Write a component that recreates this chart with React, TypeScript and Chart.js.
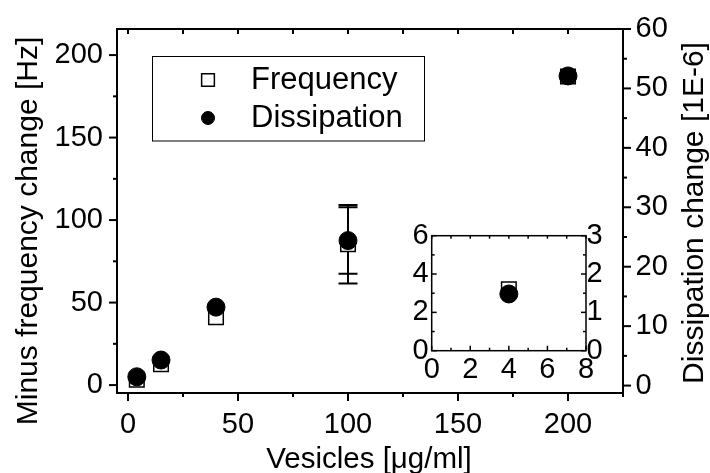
import React, { useEffect, useRef } from "react";
import { Chart, registerables } from "chart.js";
import { drawPoint } from "chart.js/helpers";

Chart.register(...registerables);

// ---------- data ----------
const seriesNames = ["Frequency", "Dissipation"];
const concentrations = [4, 15, 40, 100, 200];
const frequencyShift = [3.2, 12.7, 41.2, 85.3, 187];
const frequencyError = [0, 0, 0, 23.8, 0];
const dissipationShift = [1.48, 4.3, 13.2, 24.4, 52.1];
const dissipationError = [0, 0, 0, 5.6, 0];

const xTicks = [0, 50, 100, 150, 200];
const xMinorTicks = [25, 75, 125, 175, 225];
const xTopTicks = [0, 25, 50, 75, 100, 125, 150, 175, 200, 225];
const yTicks = [0, 50, 100, 150, 200];
const yMinorTicks = [25, 75, 125, 175];
const y2Ticks = [0, 10, 20, 30, 40, 50, 60];
const y2MinorTicks = [5, 15, 25, 35, 45, 55];

const insetXTicks = [0, 2, 4, 6, 8];
const insetXMinor = [1, 3, 5, 7];
const insetYTicks = [0, 2, 4, 6];
const insetYMinor = [1, 3, 5];
const insetY2Ticks = [0, 1, 2, 3];
const insetY2Minor = [0.5, 1.5, 2.5];
const insetMaxX = 8;

const xTitle = "Vesicles [\u03BCg/ml]";
const yTitle = "Minus frequency change [Hz]";
const y2Title = "Dissipation change [1E-6]";

// ---------- styles ----------
const FONT = "'Liberation Sans', Arial, Helvetica, sans-serif";
const TICK_SIZE = 29;

type TickSpec = { scale: string; side: "left" | "right" | "top" | "bottom"; values: number[]; len: number; out: boolean };

function drawTickMarks(chart: any, specs: TickSpec[], width: number) {
  const { ctx, chartArea: ca } = chart;
  ctx.save();
  ctx.strokeStyle = "#000";
  ctx.lineWidth = width;
  ctx.lineCap = "butt";
  for (const s of specs) {
    const scale = chart.scales[s.scale];
    const d = s.out ? 1 : -1;
    for (const v of s.values) {
      const p = scale.getPixelForValue(v);
      ctx.beginPath();
      if (s.side === "bottom") {
        ctx.moveTo(p, ca.bottom);
        ctx.lineTo(p, ca.bottom + s.len * d);
      } else if (s.side === "top") {
        ctx.moveTo(p, ca.top);
        ctx.lineTo(p, ca.top - s.len * d);
      } else if (s.side === "left") {
        ctx.moveTo(ca.left, p);
        ctx.lineTo(ca.left - s.len * d, p);
      } else {
        ctx.moveTo(ca.right, p);
        ctx.lineTo(ca.right + s.len * d, p);
      }
      ctx.stroke();
    }
  }
  ctx.lineWidth = width;
  ctx.strokeRect(ca.left, ca.top, ca.right - ca.left, ca.bottom - ca.top);
  ctx.restore();
}

const whiteArea = {
  id: "whiteArea",
  beforeDraw(chart: any) {
    const { ctx, chartArea: ca } = chart;
    ctx.save();
    ctx.fillStyle = "#fff";
    ctx.fillRect(ca.left, ca.top, ca.right - ca.left, ca.bottom - ca.top);
    ctx.restore();
  },
};

const errorBars = {
  id: "errorBars",
  beforeDatasetsDraw(chart: any) {
    const { ctx } = chart;
    ctx.save();
    ctx.strokeStyle = "#000";
    ctx.lineWidth = 2;
    chart.data.datasets.forEach((ds: any, i: number) => {
      const errs: number[] | undefined = ds.errors;
      if (!errs) return;
      const meta = chart.getDatasetMeta(i);
      const xs = chart.scales[meta.xAxisID];
      const ys = chart.scales[meta.yAxisID];
      ds.data.forEach((pt: any, j: number) => {
        const e = errs[j];
        if (!e) return;
        const px = xs.getPixelForValue(pt.x);
        const top = ys.getPixelForValue(pt.y + e);
        const bot = ys.getPixelForValue(pt.y - e);
        const cap = 9.5;
        ctx.beginPath();
        ctx.moveTo(px, top);
        ctx.lineTo(px, bot);
        ctx.moveTo(px - cap, top);
        ctx.lineTo(px + cap, top);
        ctx.moveTo(px - cap, bot);
        ctx.lineTo(px + cap, bot);
        ctx.stroke();
      });
    });
    ctx.restore();
  },
};

const mainDecor = {
  id: "mainDecor",
  afterDraw(chart: any) {
    drawTickMarks(
      chart,
      [
        { scale: "x", side: "bottom", values: xTicks, len: 8, out: true },
        { scale: "x", side: "bottom", values: xMinorTicks, len: 4, out: true },
        { scale: "x", side: "top", values: xTopTicks, len: 5, out: false },
        { scale: "y", side: "left", values: yTicks, len: 8, out: true },
        { scale: "y", side: "left", values: yMinorTicks, len: 4, out: true },
        { scale: "y2", side: "right", values: y2Ticks, len: 8, out: true },
        { scale: "y2", side: "right", values: y2MinorTicks, len: 4, out: true },
      ],
      2
    );
    const { ctx } = chart;
    ctx.save();
    ctx.fillStyle = "#000";
    ctx.textBaseline = "alphabetic";
    ctx.textAlign = "center";
    ctx.font = `30px ${FONT}`;
    ctx.save();
    ctx.translate(36.5, 231);
    ctx.rotate(-Math.PI / 2);
    ctx.fillText(yTitle, 0, 0);
    ctx.restore();
    ctx.save();
    ctx.translate(703.2, 213);
    ctx.rotate(-Math.PI / 2);
    ctx.fillText(y2Title, 0, 0);
    ctx.restore();
    ctx.font = `29.5px ${FONT}`;
    ctx.fillText(xTitle, 369, 468);

    // legend box
    ctx.lineWidth = 1;
    ctx.strokeStyle = "#000";
    ctx.strokeRect(152.5, 56.5, 272, 84.5);
    ctx.textAlign = "left";
    ctx.font = `31px ${FONT}`;
    const rows = [
      { name: seriesNames[0], ds: chart.data.datasets[1], y: 80, base: 88.5, r: 9 },
      { name: seriesNames[1], ds: chart.data.datasets[0], y: 118, base: 126.8, r: 6.5 },
    ];
    for (const row of rows) {
      ctx.fillStyle = row.ds.pointBackgroundColor;
      ctx.strokeStyle = row.ds.pointBorderColor;
      ctx.lineWidth = row.ds.pointBorderWidth;
      drawPoint(ctx, { pointStyle: row.ds.pointStyle, radius: row.r, rotation: 0, borderWidth: row.ds.pointBorderWidth } as any, 208, row.y);
      ctx.fillStyle = "#000";
      ctx.fillText(row.name, 251, row.base);
    }
    ctx.restore();
  },
};

const insetDecor = {
  id: "insetDecor",
  afterDraw(chart: any) {
    drawTickMarks(
      chart,
      [
        { scale: "x", side: "bottom", values: insetXTicks, len: 5, out: false },
        { scale: "x", side: "bottom", values: insetXMinor, len: 3, out: false },
        { scale: "x", side: "top", values: [...insetXTicks, ...insetXMinor], len: 3, out: false },
        { scale: "y", side: "left", values: insetYTicks, len: 5, out: false },
        { scale: "y", side: "left", values: insetYMinor, len: 3, out: false },
        { scale: "y2", side: "right", values: insetY2Ticks, len: 5, out: false },
        { scale: "y2", side: "right", values: insetY2Minor, len: 3, out: false },
      ],
      1.5
    );
  },
};

function tickFont() {
  return { family: FONT, size: TICK_SIZE, lineHeight: 1 };
}

function linearAxis(
  position: string,
  min: number,
  max: number,
  ticks: number[],
  padding: number,
  fit: (s: any) => void
) {
  return {
    type: "linear",
    position,
    min,
    max,
    grid: { display: false, drawTicks: false, tickLength: 0 },
    border: { display: false },
    ticks: {
      font: tickFont(),
      color: "#000",
      padding,
      maxRotation: 0,
      autoSkip: false,
      callback: (v: any) => String(v),
    },
    afterBuildTicks: (s: any) => {
      s.ticks = ticks.map((v) => ({ value: v }));
    },
    afterFit: fit,
  };
}

export default function App() {
  const mainRef = useRef<HTMLCanvasElement>(null);
  const insetRef = useRef<HTMLCanvasElement>(null);

  useEffect(() => {
    const freqData = concentrations.map((x, i) => ({ x, y: frequencyShift[i] }));
    const dissData = concentrations.map((x, i) => ({ x, y: dissipationShift[i] }));

    const main = new Chart(mainRef.current as HTMLCanvasElement, {
      type: "scatter",
      data: {
        datasets: [
          {
            label: seriesNames[1],
            data: dissData,
            yAxisID: "y2",
            pointStyle: "circle",
            pointRadius: 9,
            pointBackgroundColor: "#000",
            pointBorderColor: "#000",
            pointBorderWidth: 1,
            showLine: false,
            errors: dissipationError,
            order: 0,
          } as any,
          {
            label: seriesNames[0],
            data: freqData,
            yAxisID: "y",
            pointStyle: "rect",
            pointRadius: 10.3,
            pointBackgroundColor: "#fff",
            pointBorderColor: "#000",
            pointBorderWidth: 1.5,
            showLine: false,
            errors: frequencyError,
            order: 1,
          } as any,
        ],
      },
      options: {
        responsive: false,
        devicePixelRatio: 1,
        animation: false,
        events: [],
        layout: { padding: { top: 29, left: 0, right: 0, bottom: 0 } },
        plugins: { legend: { display: false }, tooltip: { enabled: false } },
        scales: {
          x: linearAxis("bottom", -5, 225, xTicks, 17, (s) => { s.height = 80; }),
          y: linearAxis("left", -4.8, 215.8, yTicks, 14, (s) => { s.width = 117; }),
          y2: linearAxis("right", -1.25, 60, y2Ticks, 12.5, (s) => { s.width = 87; }),
        } as any,
      },
      plugins: [errorBars, mainDecor],
    });

    const insetIdx = concentrations.map((x, i) => i).filter((i) => concentrations[i] <= insetMaxX);
    const inset = new Chart(insetRef.current as HTMLCanvasElement, {
      type: "scatter",
      data: {
        datasets: [
          {
            label: seriesNames[1],
            data: insetIdx.map((i) => ({ x: concentrations[i], y: dissipationShift[i] })),
            yAxisID: "y2",
            pointStyle: "circle",
            pointRadius: 9,
            pointBackgroundColor: "#000",
            pointBorderColor: "#000",
            pointBorderWidth: 1,
            order: 0,
          } as any,
          {
            label: seriesNames[0],
            data: insetIdx.map((i) => ({ x: concentrations[i], y: frequencyShift[i] })),
            yAxisID: "y",
            pointStyle: "rect",
            pointRadius: 10.3,
            pointBackgroundColor: "#fff",
            pointBorderColor: "#000",
            pointBorderWidth: 1.5,
            order: 1,
          } as any,
        ],
      },
      options: {
        responsive: false,
        devicePixelRatio: 1,
        animation: false,
        events: [],
        layout: { padding: { top: 30.7, left: 0, right: 0, bottom: 0 } },
        plugins: { legend: { display: false }, tooltip: { enabled: false } },
        scales: {
          x: linearAxis("bottom", 0, 8, insetXTicks, 4.5, (s) => { s.height = 44.3; }),
          y: linearAxis("left", 0, 6, insetYTicks, 3, (s) => { s.width = 51.7; }),
          y2: linearAxis("right", 0, 3, insetY2Ticks, 0.5, (s) => { s.width = 54; }),
        } as any,
      },
      plugins: [whiteArea, insetDecor],
    });

    return () => {
      main.destroy();
      inset.destroy();
    };
  }, []);

  return (
    <div style={{ position: "fixed", left: 0, top: 0, width: 710, height: 473, background: "#fff" }}>
      <canvas
        ref={mainRef}
        width={710}
        height={473}
        style={{ position: "absolute", left: 0, top: 0, width: 710, height: 473 }}
      />
      <canvas
        ref={insetRef}
        width={260}
        height={190}
        style={{ position: "absolute", left: 380, top: 205, width: 260, height: 190 }}
      />
    </div>
  );
}
